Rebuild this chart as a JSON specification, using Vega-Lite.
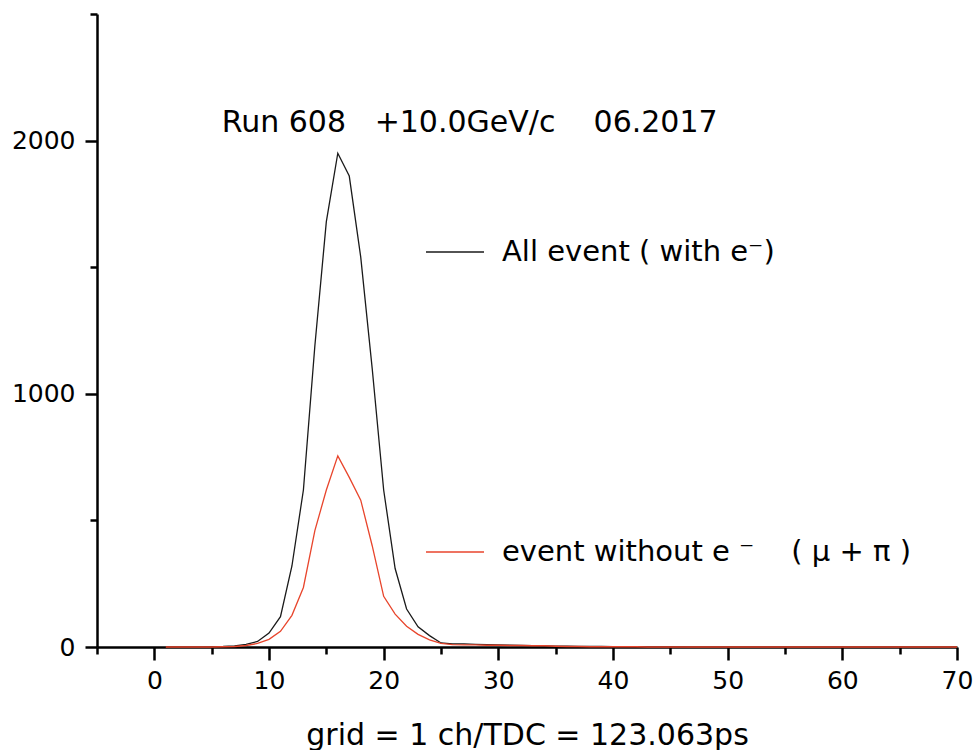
{
  "$schema": "https://vega.github.io/schema/vega-lite/v6.json",
  "width": 860,
  "height": 633,
  "autosize": "none",
  "padding": {"left": 97, "top": 14, "right": 17, "bottom": 103},
  "background": "white",
  "config": {"view": {"stroke": null}, "font": "DejaVu Sans"},
  "layer": [
    {
      "data": {
        "values": [
          {"ch": 1, "count": 0, "series": "All"}, {"ch": 2, "count": 0, "series": "All"}, {"ch": 3, "count": 0, "series": "All"}, {"ch": 4, "count": 0, "series": "All"}, {"ch": 5, "count": 1, "series": "All"}, {"ch": 6, "count": 2, "series": "All"}, {"ch": 7, "count": 4, "series": "All"}, {"ch": 8, "count": 10, "series": "All"}, {"ch": 9, "count": 22, "series": "All"}, {"ch": 10, "count": 55, "series": "All"},
          {"ch": 11, "count": 120, "series": "All"}, {"ch": 12, "count": 320, "series": "All"}, {"ch": 13, "count": 620, "series": "All"}, {"ch": 14, "count": 1190, "series": "All"}, {"ch": 15, "count": 1680, "series": "All"}, {"ch": 16, "count": 1950, "series": "All"}, {"ch": 17, "count": 1860, "series": "All"}, {"ch": 18, "count": 1540, "series": "All"}, {"ch": 19, "count": 1100, "series": "All"}, {"ch": 20, "count": 620, "series": "All"},
          {"ch": 21, "count": 310, "series": "All"}, {"ch": 22, "count": 150, "series": "All"}, {"ch": 23, "count": 80, "series": "All"}, {"ch": 24, "count": 45, "series": "All"}, {"ch": 25, "count": 16, "series": "All"}, {"ch": 26, "count": 12, "series": "All"}, {"ch": 27, "count": 12, "series": "All"}, {"ch": 28, "count": 10, "series": "All"}, {"ch": 29, "count": 9, "series": "All"}, {"ch": 30, "count": 8, "series": "All"},
          {"ch": 31, "count": 7, "series": "All"}, {"ch": 32, "count": 6, "series": "All"}, {"ch": 33, "count": 5, "series": "All"}, {"ch": 34, "count": 4, "series": "All"}, {"ch": 35, "count": 3, "series": "All"}, {"ch": 36, "count": 3, "series": "All"}, {"ch": 37, "count": 2, "series": "All"}, {"ch": 38, "count": 2, "series": "All"}, {"ch": 39, "count": 2, "series": "All"}, {"ch": 40, "count": 1, "series": "All"},
          {"ch": 41, "count": 1, "series": "All"}, {"ch": 42, "count": 1, "series": "All"}, {"ch": 43, "count": 1, "series": "All"}, {"ch": 44, "count": 1, "series": "All"}, {"ch": 45, "count": 1, "series": "All"}, {"ch": 46, "count": 1, "series": "All"}, {"ch": 47, "count": 0, "series": "All"}, {"ch": 48, "count": 0, "series": "All"}, {"ch": 49, "count": 0, "series": "All"}, {"ch": 50, "count": 0, "series": "All"},
          {"ch": 51, "count": 0, "series": "All"}, {"ch": 52, "count": 0, "series": "All"}, {"ch": 53, "count": 0, "series": "All"}, {"ch": 54, "count": 0, "series": "All"}, {"ch": 55, "count": 0, "series": "All"}, {"ch": 56, "count": 0, "series": "All"}, {"ch": 57, "count": 0, "series": "All"}, {"ch": 58, "count": 0, "series": "All"}, {"ch": 59, "count": 0, "series": "All"}, {"ch": 60, "count": 0, "series": "All"},
          {"ch": 61, "count": 0, "series": "All"}, {"ch": 62, "count": 0, "series": "All"}, {"ch": 63, "count": 0, "series": "All"}, {"ch": 64, "count": 0, "series": "All"}, {"ch": 65, "count": 0, "series": "All"}, {"ch": 66, "count": 0, "series": "All"}, {"ch": 67, "count": 0, "series": "All"}, {"ch": 68, "count": 0, "series": "All"}, {"ch": 69, "count": 0, "series": "All"}, {"ch": 70, "count": 0, "series": "All"},
          {"ch": 1, "count": 0, "series": "NoE"}, {"ch": 2, "count": 0, "series": "NoE"}, {"ch": 3, "count": 0, "series": "NoE"}, {"ch": 4, "count": 0, "series": "NoE"}, {"ch": 5, "count": 0, "series": "NoE"}, {"ch": 6, "count": 1, "series": "NoE"}, {"ch": 7, "count": 2, "series": "NoE"}, {"ch": 8, "count": 6, "series": "NoE"}, {"ch": 9, "count": 14, "series": "NoE"}, {"ch": 10, "count": 30, "series": "NoE"},
          {"ch": 11, "count": 62, "series": "NoE"}, {"ch": 12, "count": 125, "series": "NoE"}, {"ch": 13, "count": 235, "series": "NoE"}, {"ch": 14, "count": 460, "series": "NoE"}, {"ch": 15, "count": 620, "series": "NoE"}, {"ch": 16, "count": 755, "series": "NoE"}, {"ch": 17, "count": 670, "series": "NoE"}, {"ch": 18, "count": 580, "series": "NoE"}, {"ch": 19, "count": 400, "series": "NoE"}, {"ch": 20, "count": 200, "series": "NoE"},
          {"ch": 21, "count": 130, "series": "NoE"}, {"ch": 22, "count": 82, "series": "NoE"}, {"ch": 23, "count": 50, "series": "NoE"}, {"ch": 24, "count": 28, "series": "NoE"}, {"ch": 25, "count": 14, "series": "NoE"}, {"ch": 26, "count": 9, "series": "NoE"}, {"ch": 27, "count": 8, "series": "NoE"}, {"ch": 28, "count": 8, "series": "NoE"}, {"ch": 29, "count": 7, "series": "NoE"}, {"ch": 30, "count": 7, "series": "NoE"},
          {"ch": 31, "count": 6, "series": "NoE"}, {"ch": 32, "count": 6, "series": "NoE"}, {"ch": 33, "count": 5, "series": "NoE"}, {"ch": 34, "count": 5, "series": "NoE"}, {"ch": 35, "count": 3, "series": "NoE"}, {"ch": 36, "count": 2, "series": "NoE"}, {"ch": 37, "count": 2, "series": "NoE"}, {"ch": 38, "count": 1, "series": "NoE"}, {"ch": 39, "count": 1, "series": "NoE"}, {"ch": 40, "count": 1, "series": "NoE"},
          {"ch": 41, "count": 1, "series": "NoE"}, {"ch": 42, "count": 1, "series": "NoE"}, {"ch": 43, "count": 0, "series": "NoE"}, {"ch": 44, "count": 0, "series": "NoE"}, {"ch": 45, "count": 0, "series": "NoE"}, {"ch": 46, "count": 0, "series": "NoE"}, {"ch": 47, "count": 0, "series": "NoE"}, {"ch": 48, "count": 0, "series": "NoE"}, {"ch": 49, "count": 0, "series": "NoE"}, {"ch": 50, "count": 0, "series": "NoE"},
          {"ch": 51, "count": 0, "series": "NoE"}, {"ch": 52, "count": 0, "series": "NoE"}, {"ch": 53, "count": 0, "series": "NoE"}, {"ch": 54, "count": 0, "series": "NoE"}, {"ch": 55, "count": 0, "series": "NoE"}, {"ch": 56, "count": 0, "series": "NoE"}, {"ch": 57, "count": 0, "series": "NoE"}, {"ch": 58, "count": 0, "series": "NoE"}, {"ch": 59, "count": 0, "series": "NoE"}, {"ch": 60, "count": 0, "series": "NoE"},
          {"ch": 61, "count": 0, "series": "NoE"}, {"ch": 62, "count": 0, "series": "NoE"}, {"ch": 63, "count": 0, "series": "NoE"}, {"ch": 64, "count": 0, "series": "NoE"}, {"ch": 65, "count": 0, "series": "NoE"}, {"ch": 66, "count": 0, "series": "NoE"}, {"ch": 67, "count": 0, "series": "NoE"}, {"ch": 68, "count": 0, "series": "NoE"}, {"ch": 69, "count": 0, "series": "NoE"}, {"ch": 70, "count": 0, "series": "NoE"}
        ]
      },
      "mark": {"type": "line", "strokeWidth": 1.3},
      "encoding": {
        "x": {
          "field": "ch", "type": "quantitative",
          "scale": {"domain": [-5, 70], "nice": false, "zero": false},
          "axis": {
            "values": [-5, 0, 5, 10, 15, 20, 25, 30, 35, 40, 45, 50, 55, 60, 65, 70],
            "labelExpr": "datum.value % 10 === 0 ? datum.label : ''",
            "tickSize": {"condition": {"test": "datum.value % 10 === 0", "value": 13}, "value": 7},
            "grid": false, "domainColor": "black", "domainWidth": 2.5, "tickColor": "black", "tickWidth": 2.5,
            "labelFontSize": 25, "labelColor": "black", "labelPadding": 8, "labelFlush": false, "labelOverlap": false,
            "title": "grid = 1 ch/TDC = 123.063ps", "titleFontSize": 30, "titleFontWeight": "normal", "titleColor": "black", "titlePadding": 27
          }
        },
        "y": {
          "field": "count", "type": "quantitative",
          "scale": {"domain": [0, 2500], "nice": false},
          "axis": {
            "values": [0, 500, 1000, 1500, 2000, 2500],
            "format": "d",
            "labelExpr": "datum.value % 1000 === 0 ? datum.label : ''",
            "tickSize": {"condition": {"test": "datum.value % 1000 === 0", "value": 12}, "value": 7},
            "grid": false, "domainColor": "black", "domainWidth": 2.5, "tickColor": "black", "tickWidth": 2.5,
            "labelFontSize": 25, "labelColor": "black", "labelPadding": 10, "labelOverlap": false,
            "title": null
          }
        },
        "color": {
          "field": "series", "type": "nominal",
          "scale": {"domain": ["All", "NoE"], "range": ["#1a1a1a", "#e8452c"]},
          "legend": {
            "orient": "none", "legendX": 328, "legendY": 208, "title": null, "padding": 0,
            "symbolType": "stroke", "symbolSize": 3364, "symbolStrokeWidth": 1.3,
            "labelFontSize": 29, "labelColor": "black", "labelOffset": 17, "rowPadding": 255,
            "labelLimit": 600,
            "labelExpr": "datum.value === 'All' ? 'All event ( with e⁻)' : '\u00a0event without e ⁻\u00a0\u00a0\u00a0\u00a0( μ + π )'"
          }
        }
      }
    },
    {
      "data": {"values": [{"label": "Run 608\u00a0\u00a0\u00a0+10.0GeV/c\u00a0\u00a0\u00a0\u00a006.2017"}]},
      "mark": {"type": "text", "fontSize": 30, "align": "center", "baseline": "alphabetic", "color": "black"},
      "encoding": {
        "text": {"field": "label"},
        "x": {"datum": 27.5},
        "y": {"datum": 2034}
      }
    }
  ]
}
